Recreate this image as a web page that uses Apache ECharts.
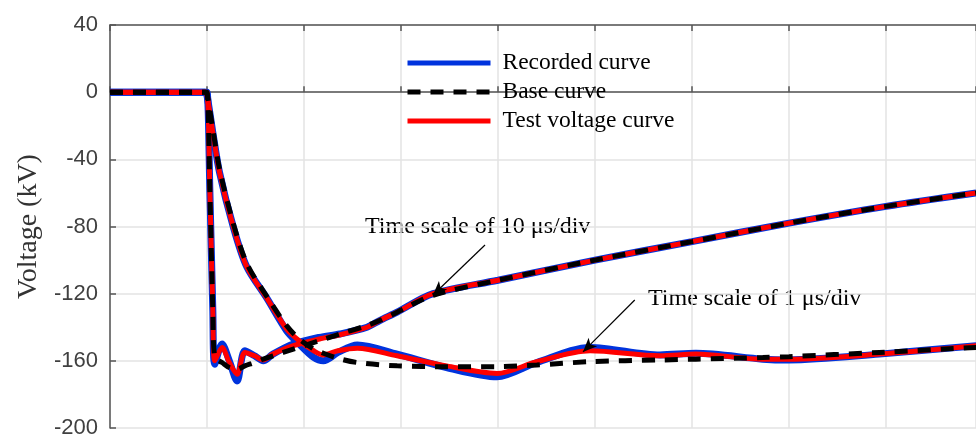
<!DOCTYPE html>
<html>
<head>
<meta charset="utf-8">
<title>Voltage curves</title>
<script src="https://cdn.jsdelivr.net/npm/echarts@6/dist/echarts.min.js"></script>
<style>
  html, body { margin: 0; padding: 0; background: #fff; }
  #chart { width: 976px; height: 437px; }
</style>
</head>
<body>
<div id="chart"></div>
<script>
// time axis in divisions (1 div = 10 us or 1 us depending on the record)
const t10 = [0, 0.98, 1.0, 1.03, 1.06, 1.08, 1.155, 1.23, 1.31, 1.39, 1.49, 1.58, 1.68, 1.89, 2.16, 2.37, 2.65, 2.78, 2.96, 3.33, 4.0, 5.0, 6.0, 7.0, 8.0, 8.93];
const rec10 = [0, 0, 0, -60, -130, -162, -150, -160, -172, -154, -157, -160, -156, -150, -146, -144, -140, -136, -131, -120, -112, -100, -89, -78, -68, -60];
const test10 = [0, 0, 0, -60, -130, -160, -152, -161, -168, -155, -157, -159.5, -156, -151, -147, -144.5, -140, -136, -131, -120, -112, -100, -89, -78, -68, -60];
const base10 = [0, 0, 0, -60, -130, -158, -161, -164, -165, -163, -161, -159, -157, -153, -148, -144, -139, -136, -131, -121, -112, -100, -89, -78, -68, -60];

const t1 = [0, 0.98, 1.0, 1.06, 1.13, 1.27, 1.41, 1.62, 1.82, 1.95, 2.1, 2.2, 2.35, 2.55, 2.96, 3.47, 3.99, 4.4, 4.95, 5.67, 6.04, 6.73, 7.0, 7.93, 8.93];
const rec1 = [0, 0, -2, -24, -48, -80, -104, -123, -142, -150, -158, -160, -155, -150.5, -156, -164, -169.5, -161, -152, -156.5, -155.5, -159, -159.5, -156, -151];
const test1 = [0, 0, -2, -24, -48, -80, -104, -123, -141, -148, -154, -156.5, -154, -152.5, -157, -163, -167.5, -160.5, -154, -157, -156, -159, -159, -156, -151];
const base1 = [0, 0, -1, -22, -46, -78, -102, -122, -139, -147, -153, -155.5, -158.5, -161, -163, -163.5, -163.5, -162.5, -160.5, -159.5, -159, -158, -157.5, -155, -152];

const yTicks = [-200, -160, -120, -80, -40, 0, 40];
const names = ['Recorded curve', 'Base curve', 'Test voltage curve'];

const pairs = (xs, ys) => xs.map((x, i) => [x, ys[i]]);
const serif = '"Liberation Serif", "Times New Roman", serif';

function curve(name, xs, ys, color, width, dashed) {
  return {
    name: name,
    type: 'line',
    data: pairs(xs, ys),
    showSymbol: false,
    symbol: 'none',
    smooth: 0.3,
    lineStyle: { color: color, width: width, type: dashed ? [13, 10] : 'solid' },
    itemStyle: { color: color },
    silent: true,
  };
}

const chart = echarts.init(document.getElementById('chart'));

const arrows = {
  silent: true,
  symbol: ['none', 'arrow'],
  symbolSize: [9, 14],
  label: { show: false },
  lineStyle: { color: '#000', width: 1.2, type: 'solid' },
  data: [
    [{ coord: [3.866, -91] }, { coord: [3.33, -120.8] }],
    [{ coord: [5.41, -123.8] }, { coord: [4.876, -154.7] }],
  ],
};

const black10 = curve(names[1], t10, base10, '#000', 5, true);
black10.markLine = arrows;

chart.setOption({
  animation: false,
  grid: { left: 110, top: 25, right: 0, bottom: 9, outerBoundsMode: 'none', containLabel: false },
  legend: {
    data: names,
    orient: 'vertical',
    left: 400,
    top: 46,
    itemWidth: 83,
    itemHeight: 14,
    itemGap: 5,
    selectedMode: false,
    itemStyle: { opacity: 0 },
    lineStyle: { width: 5 },
    textStyle: {
      fontFamily: serif,
      fontSize: 23.5,
      color: '#000',
      lineHeight: 23,
      padding: [0, 0, 0, 7],
    },
  },
  xAxis: [
    {
      type: 'value',
      min: 0,
      max: 8.928,
      interval: 1,
      axisLine: { lineStyle: { color: '#555', width: 1.5 } },
      axisTick: { inside: true, length: 6, lineStyle: { color: '#555', width: 1.5 } },
      axisLabel: { show: false },
      splitLine: { lineStyle: { color: '#e3e3e3', width: 1.5 } },
    },
    {
      type: 'value',
      position: 'top',
      min: 0,
      max: 8.928,
      interval: 1,
      axisLine: { show: true, lineStyle: { color: '#555', width: 1.5 } },
      axisTick: { inside: true, length: 6, lineStyle: { color: '#555', width: 1.5 } },
      axisLabel: { show: false },
      splitLine: { show: false },
    },
  ],
  yAxis: {
    type: 'value',
    min: yTicks[0],
    max: yTicks[yTicks.length - 1],
    interval: 40,
    name: 'Voltage (kV)',
    nameLocation: 'middle',
    nameGap: 66,
    nameTextStyle: { fontFamily: serif, fontSize: 28, color: '#333' },
    axisLine: { show: true, lineStyle: { color: '#555', width: 1.5 } },
    axisTick: { show: true, inside: true, length: 6, lineStyle: { color: '#555', width: 1.5 } },
    axisLabel: {
      fontFamily: '"Liberation Sans", Arial, sans-serif',
      fontSize: 22,
      color: '#404040',
      margin: 12,
    },
    splitLine: { lineStyle: { color: '#e3e3e3', width: 1.5 } },
  },
  graphic: [
    {
      type: 'text',
      left: 365,
      top: 215,
      silent: true,
      style: { text: 'Time scale of 10 \u03bcs/div', font: '24px ' + serif, fill: '#000', lineWidth: 0 },
    },
    {
      type: 'text',
      left: 648,
      top: 287,
      silent: true,
      style: { text: 'Time scale of 1 \u03bcs/div', font: '24px ' + serif, fill: '#000', lineWidth: 0 },
    },
  ],
  series: [
    curve(names[0], t10, rec10, '#0033dd', 7),
    curve(names[0], t1, rec1, '#0033dd', 7),
    curve(names[2], t10, test10, '#ff0000', 5),
    curve(names[2], t1, test1, '#ff0000', 5),
    black10,
    curve(names[1], t1, base1, '#000', 5, true),
  ],
});
</script>
</body>
</html>
